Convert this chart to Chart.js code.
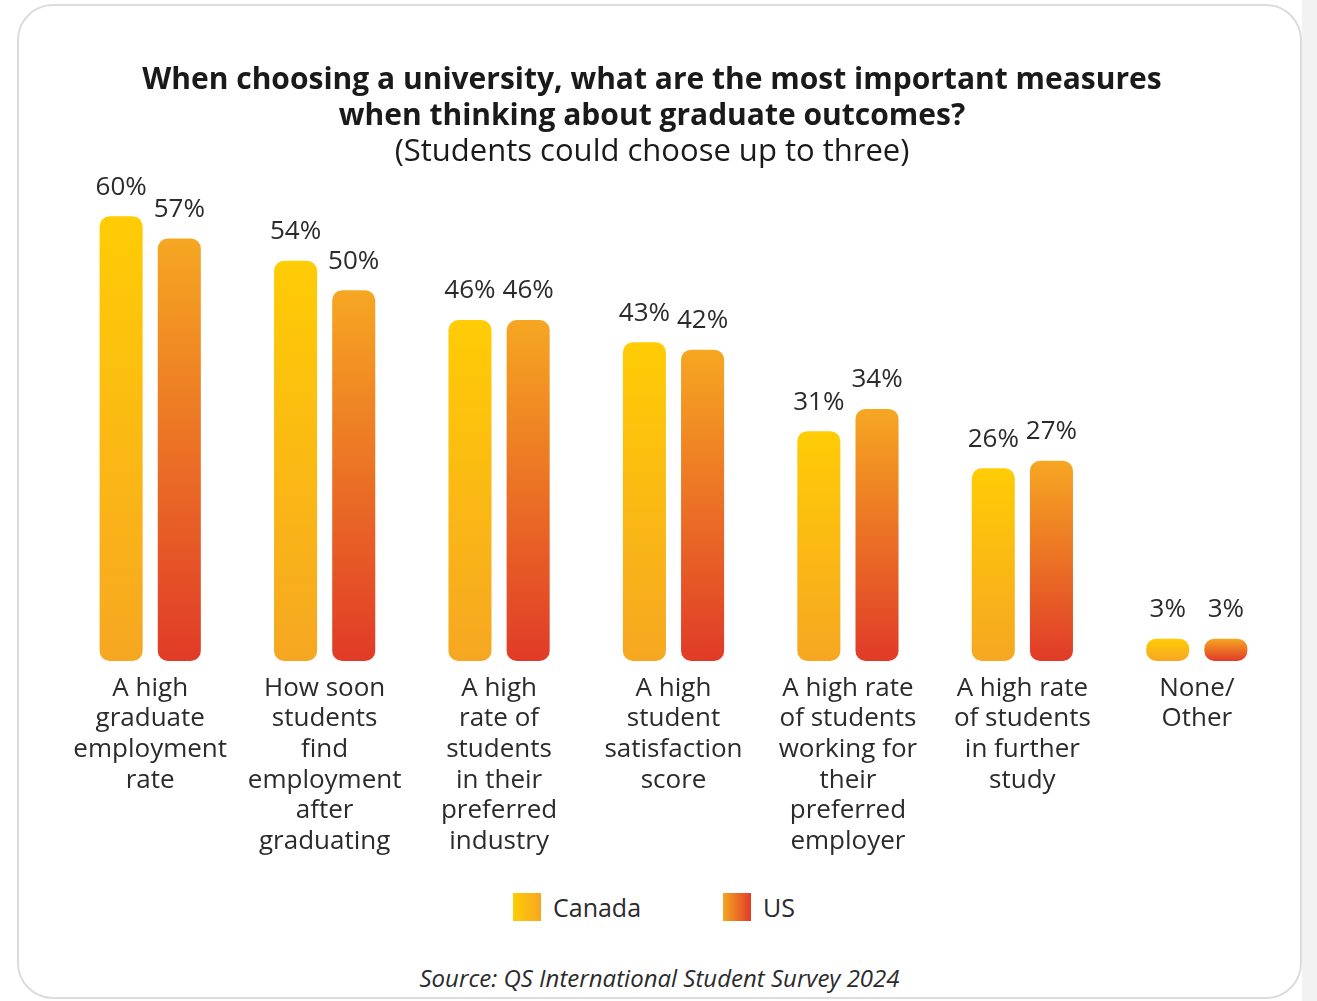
<!DOCTYPE html>
<html>
<head>
<meta charset="utf-8">
<script src="https://cdn.jsdelivr.net/npm/chart.js@4"></script>
<style>
  html, body { margin: 0; padding: 0; background: #ffffff; }
  body { width: 1317px; height: 1001px; position: relative; overflow: hidden; font-family: "Open Sans", sans-serif; color: #2b2b2b; }
  .side { position: absolute; left: 1302px; top: 0; width: 15px; height: 1001px; background: #f2f2f2; }
  .card { position: absolute; left: 17px; top: 4px; width: 1281px; height: 991px; border: 2px solid #dcdcdc; border-radius: 36px; background: #ffffff; box-sizing: content-box; }
  .wrap { position: absolute; left: 0; top: 0; width: 1317px; height: 873px; }
  #legend { position: absolute; top: 893px; left: 0; width: 1308px; display: flex; justify-content: center; gap: 82px; font-size: 25px; line-height: 28px; }
  #legend .item { display: flex; align-items: center; }
  #legend .sw { width: 28px; height: 28px; margin-right: 12px; }
  #source { position: absolute; top: 963px; left: 0; width: 1319px; text-align: center; font-style: italic; font-size: 24px; line-height: 30px; }
</style>
</head>
<body>
<div class="side"></div>
<div class="card"></div>
<div class="wrap"><canvas id="chart" width="1317" height="873"></canvas></div>
<div id="legend"></div>
<div id="source">Source: QS International Student Survey 2024</div>
<script>
// Survey categories (multi-line tick labels)
const categories = [
  ["A high", "graduate", "employment", "rate"],
  ["How soon", "students", "find", "employment", "after", "graduating"],
  ["A high", "rate of", "students", "in their", "preferred", "industry"],
  ["A high", "student", "satisfaction", "score"],
  ["A high rate", "of students", "working for", "their", "preferred", "employer"],
  ["A high rate", "of students", "in further", "study"],
  ["None/", "Other"]
];
const seriesNames = ["Canada", "US"];
const canadaValues = [60, 54, 46, 43, 31, 26, 3];
const usValues = [57, 50, 46, 42, 34, 27, 3];

// Vertical gradient stops per series: top colour, bottom colour
const gradientStops = [
  ["#ffcc05", "#f6a722"],
  ["#f6a722", "#e03b28"]
];

function barGradient(seriesIndex) {
  return function (ctx) {
    const chart = ctx.chart;
    if (!chart.chartArea || ctx.raw === undefined) return gradientStops[seriesIndex][0];
    const y = chart.scales.y;
    const top = y.getPixelForValue(ctx.raw);
    const base = y.getPixelForValue(0);
    const g = chart.ctx.createLinearGradient(0, top, 0, base);
    g.addColorStop(0, gradientStops[seriesIndex][0]);
    g.addColorStop(1, gradientStops[seriesIndex][1]);
    return g;
  };
}

// Percent labels above each bar
const valueLabels = {
  id: "valueLabels",
  afterDatasetsDraw(chart) {
    const c = chart.ctx;
    c.save();
    c.font = "26px 'Open Sans', sans-serif";
    c.fillStyle = "#2b2b2b";
    c.textAlign = "center";
    c.textBaseline = "middle";
    chart.data.datasets.forEach((ds, di) => {
      chart.getDatasetMeta(di).data.forEach((bar, i) => {
        c.fillText(ds.data[i] + "%", bar.x, bar.y - 29);
      });
    });
    c.restore();
  }
};

const chart = new Chart(document.getElementById("chart"), {
  type: "bar",
  data: {
    labels: categories,
    datasets: [
      { label: seriesNames[0], data: canadaValues, backgroundColor: barGradient(0) },
      { label: seriesNames[1], data: usValues, backgroundColor: barGradient(1) }
    ]
  },
  options: {
    responsive: false,
    animation: false,
    layout: { padding: { left: 20, right: 33, top: 0, bottom: 4 } },
    datasets: {
      bar: {
        categoryPercentage: 0.667,
        barPercentage: 0.74,
        borderRadius: 10,
        borderSkipped: false
      }
    },
    scales: {
      x: {
        grid: { display: false, drawTicks: false },
        border: { display: false },
        ticks: {
          color: "#2b2b2b",
          font: { family: "'Open Sans', sans-serif", size: 26, lineHeight: 1.18 },
          padding: 12,
          maxRotation: 0,
          autoSkip: false
        }
      },
      y: {
        min: 0,
        max: 65,
        grid: { display: false, drawTicks: false },
        border: { display: false },
        ticks: { display: false },
        afterFit(scale) { scale.width = 43; }
      }
    },
    plugins: {
      legend: { display: false },
      tooltip: { enabled: false },
      title: {
        display: true,
        text: [
          "When choosing a university, what are the most important measures",
          "when thinking about graduate outcomes?"
        ],
        color: "#1a1a1a",
        font: { family: "'Open Sans', sans-serif", size: 30, weight: "bold", lineHeight: 1.2 },
        padding: { top: 62, bottom: 0 }
      },
      subtitle: {
        display: true,
        text: "(Students could choose up to three)",
        color: "#1a1a1a",
        font: { family: "'Open Sans', sans-serif", size: 31, weight: "normal", lineHeight: 1.2 },
        padding: { top: 0, bottom: 8 }
      }
    }
  },
  plugins: [valueLabels]
});

// Legend with horizontal gradient swatches
const legend = document.getElementById("legend");
seriesNames.forEach((name, i) => {
  const item = document.createElement("div");
  item.className = "item";
  const sw = document.createElement("span");
  sw.className = "sw";
  sw.style.background = "linear-gradient(to right, " + gradientStops[i][0] + ", " + gradientStops[i][1] + ")";
  const txt = document.createElement("span");
  txt.textContent = name;
  item.appendChild(sw);
  item.appendChild(txt);
  legend.appendChild(item);
});
</script>
</body>
</html>
